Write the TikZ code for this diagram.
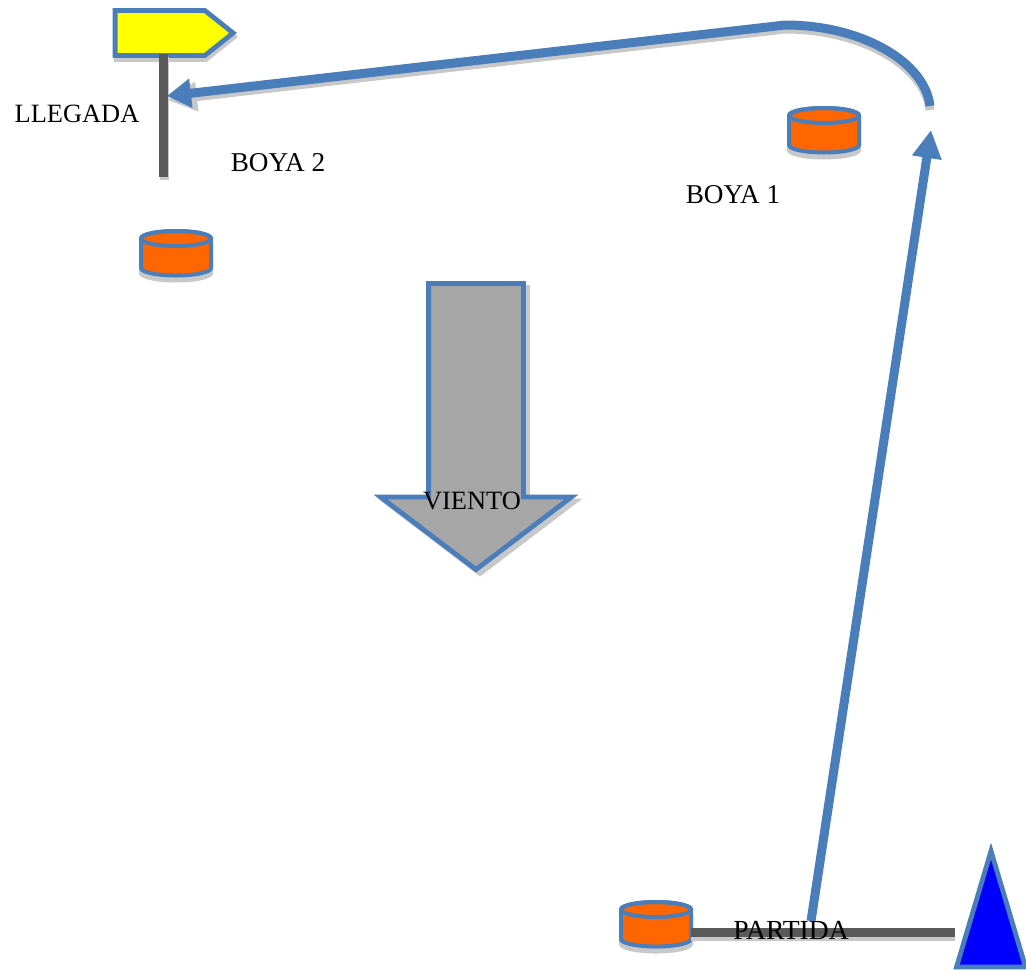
\documentclass[tikz,border=0pt]{standalone}
\usepackage{fontspec}
\setmainfont{Liberation Serif}
\usetikzlibrary{arrows.meta, positioning, shapes.geometric, shapes.arrows, shapes.symbols}
\definecolor{routeblue}{HTML}{4A7EBB}
\definecolor{polegrey}{HTML}{595959}
\definecolor{windgrey}{HTML}{A6A6A6}
\definecolor{shadowgrey}{HTML}{C8C8C8}
\definecolor{buoyorange}{HTML}{FF6600}
\definecolor{flagyellow}{HTML}{FFFF00}
\definecolor{startblue}{HTML}{0000FF}
\newcommand{\buoybody}{(35,15) arc[start angle=0,end angle=180,x radius=35,y radius=7.5] -- (-35,-14.5)
  arc[start angle=180,end angle=360,x radius=35,y radius=7.5] -- cycle}
\tikzset{
  shifted/.style={preaction={draw=shadowgrey,fill=shadowgrey,transform canvas={shift={(#1)}}}},
  buoy/.pic={
    \draw[shadowgrey,fill=shadowgrey,line width=2pt,shift={(0,5)}] \buoybody;
    \draw[routeblue,fill=buoyorange,line width=2pt] \buoybody;
    \draw[routeblue,line width=2pt] (0,-14.5) ellipse [x radius=35,y radius=7.5];
  },
  pole/.style={draw=polegrey,line width=4.5pt},
  route/.style={draw=routeblue,line width=4.5pt},
  label/.style={font=\fontsize{13.2pt}{15pt}\selectfont,inner sep=0pt},
  boyalabel/.style={label,font=\fontsize{13.6pt}{15pt}\selectfont}
}
\begin{document}
\begin{tikzpicture}[x=0.5pt,y=-0.5pt]
\useasboundingbox (0,0) rectangle (1026,970);
% finish flag
\node[shape=signal,signal to=east,signal pointer angle=77,draw=routeblue,fill=flagyellow,line width=2.4pt,
  minimum width=59pt,minimum height=22.5pt,inner sep=0pt,outer sep=0pt,shifted={1,4}] (flag) at (160,33) {};
\coordinate (flagpoletop) at (163,54);
\coordinate (flagpoleend) at (163,177);
\draw[pole,shadowgrey,transform canvas={shift={(1,3)}}] (flagpoletop) -- (flagpoleend);
\draw[pole] (flagpoletop) -- (flagpoleend);
% buoys
\pic (boyados) at (176,253) {buoy};
\pic (boyauno) at (824,130) {buoy};
\pic (boyasalida) at (656,924) {buoy};
% wind
\node[shape=single arrow,shape border rotate=270,draw=routeblue,fill=windgrey,line width=2.4pt,
  single arrow tip angle=105.5,single arrow head extend=24pt,
  minimum height=143pt,minimum width=93pt,inner sep=22.5pt,outer sep=0pt,shifted={4,4}] (viento) at (476,408.5) {};
% start line
\node[shape=isosceles triangle,shape border rotate=90,isosceles triangle apex angle=33,
  isosceles triangle stretches,draw=routeblue,fill=startblue,line width=2.4pt,
  minimum width=34.5pt,minimum height=58pt,inner sep=0pt,outer sep=0pt,anchor=lower side] (salida) at (991,967) {};
\coordinate (linestart) at (691,932);
\coordinate (lineend) at (955,932);
\draw[pole,shadowgrey,transform canvas={shift={(0,4)}}] (linestart) -- (lineend);
\draw[pole] (linestart) -- (lineend);
% course
\coordinate (legstart) at (811,921);
\coordinate (legend) at (931,130);
\coordinate (turnstart) at (930,106);
\coordinate (turntop) at (785,25);
\coordinate (finishtip) at (167,96);
\draw[route,shadowgrey,-{Triangle[length=15pt,width=14pt]},transform canvas={shift={(0,4)}}] (turnstart) .. controls (925,62) and (862,25) .. (turntop) -- (finishtip);
\draw[route,-{Triangle[length=14pt,width=14pt]}] (legstart) -- (legend);
\draw[route,-{Triangle[length=12pt,width=14pt]}] (turnstart) .. controls (925,62) and (862,25) .. (turntop) -- (finishtip);
% labels
\node[label] (llegada) at (77,114) {LLEGADA};
\node[boyalabel] (boyadostxt) at (278,163) {BOYA 2};
\node[boyalabel] (boyaunotxt) at (733,195) {BOYA 1};
\node[label] (vientotxt) at (472,501) {VIENTO};
\node[label,font=\fontsize{13.8pt}{15pt}\selectfont] (partida) at (791,930) {PARTIDA};
\end{tikzpicture}
\end{document}
